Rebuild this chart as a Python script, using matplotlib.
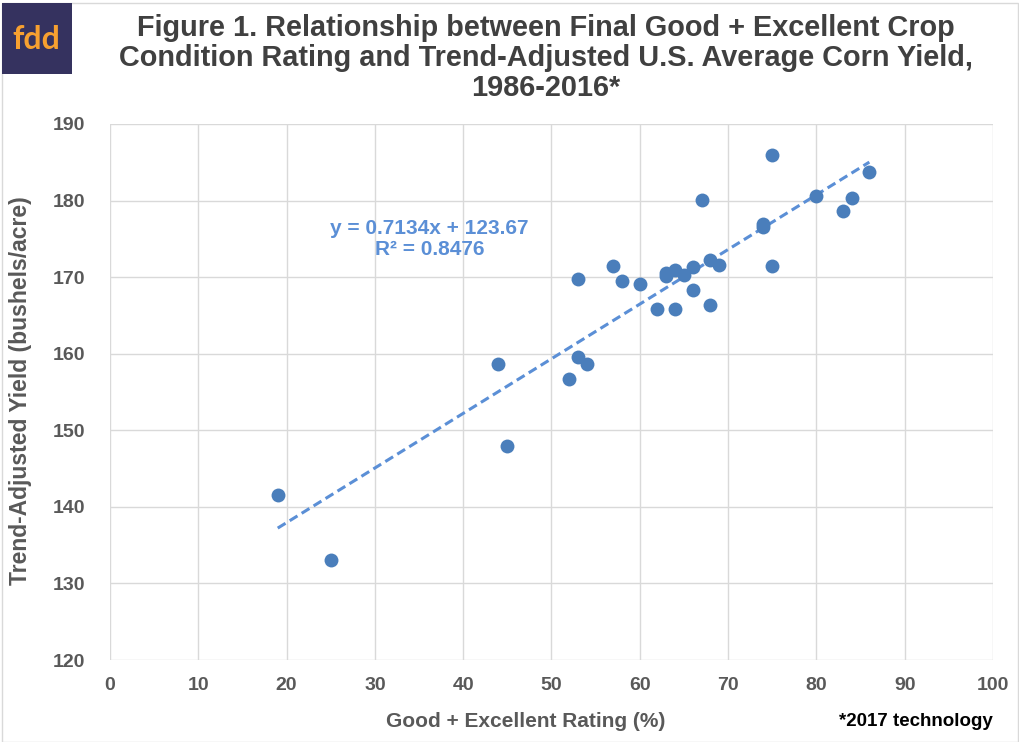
import matplotlib.pyplot as plt
from matplotlib.patches import Rectangle

# G+E rating (%) and trend-adjusted yield (bu/acre), 1986-2016
rating = [19, 25, 44, 45, 52, 53, 54, 53, 57, 58, 60, 62, 64, 63, 63, 64,
          65, 66, 66, 68, 69, 68, 67, 74, 74, 75, 75, 80, 83, 84, 86]
yield_adj = [141.6, 133.0, 158.7, 147.9, 156.7, 159.6, 158.6, 169.7, 171.4, 169.5,
             169.1, 165.9, 165.9, 170.6, 170.2, 170.9, 170.3, 171.3, 168.3, 172.3,
             171.6, 166.3, 180.1, 177.0, 176.5, 185.9, 171.4, 180.6, 178.7, 180.3, 183.7]

slope = 0.7134
intercept = 123.67

plt.rcParams['font.family'] = ['Liberation Sans', 'DejaVu Sans']

fig = plt.figure(figsize=(10.2, 7.42), dpi=100)
ax = fig.add_axes([0.1078, 0.1105, 0.8657, 0.7224])

ax.scatter(rating, yield_adj, s=100, color="#4a7ebb", zorder=3, linewidths=0)
x0, x1 = min(rating), max(rating)
ax.plot([x0, x1], [slope * x0 + intercept, slope * x1 + intercept],
        linestyle=(0, (3, 1.6)), color="#5b8fd6", linewidth=2.2, zorder=2)

ax.set_xlim(0, 100)
ax.set_ylim(120, 190)
ax.set_xticks(range(0, 101, 10))
ax.set_yticks(range(120, 191, 10))
ax.grid(True, color="#d9d9d9", linewidth=1)
ax.set_axisbelow(True)
for s in ax.spines.values():
    s.set_visible(False)
ax.tick_params(length=0, labelsize=14, labelcolor="#595959")
ax.tick_params(axis="x", pad=12)
ax.tick_params(axis="y", pad=18)
for lab in ax.get_xticklabels() + ax.get_yticklabels():
    lab.set_fontweight("bold")

ax.text(0.362, 0.785, "y = 0.7134x + 123.67\nR² = 0.8476", transform=ax.transAxes,
        ha="center", va="center", fontsize=15, fontweight="bold",
        color="#5b8fd6", linespacing=1.15)

fig.text(0.535, 0.922, "Figure 1. Relationship between Final Good + Excellent Crop\n"
         "Condition Rating and Trend-Adjusted U.S. Average Corn Yield,\n1986-2016*",
         ha="center", va="center", fontsize=20.8, fontweight="bold", color="#404040",
         linespacing=1.1)
fig.text(0.515, 0.027, "Good + Excellent Rating (%)", ha="center", va="center",
         fontsize=15, fontweight="bold", color="#595959")
fig.text(0.02, 0.474, "Trend-Adjusted Yield (bushels/acre)", ha="center", va="center",
         rotation=90, fontsize=16.5, fontweight="bold", color="#595959")
fig.text(0.973, 0.027, "*2017 technology", ha="right", va="center",
         fontsize=13.5, fontweight="bold", color="#000000")

# chart border and logo
fig.patches.append(Rectangle((0.002, 0.0), 0.996, 0.996, transform=fig.transFigure,
                             fill=False, edgecolor="#d9d9d9", linewidth=1))
fig.patches.append(Rectangle((0.0015, 0.9), 0.0695, 0.0955, transform=fig.transFigure,
                             facecolor="#35325f", edgecolor="none"))
fig.text(0.036, 0.947, "fdd", ha="center", va="center", fontsize=23,
         fontweight="bold", color="#f7a030", family="Lato")

fig.savefig("out.png", dpi=100)
